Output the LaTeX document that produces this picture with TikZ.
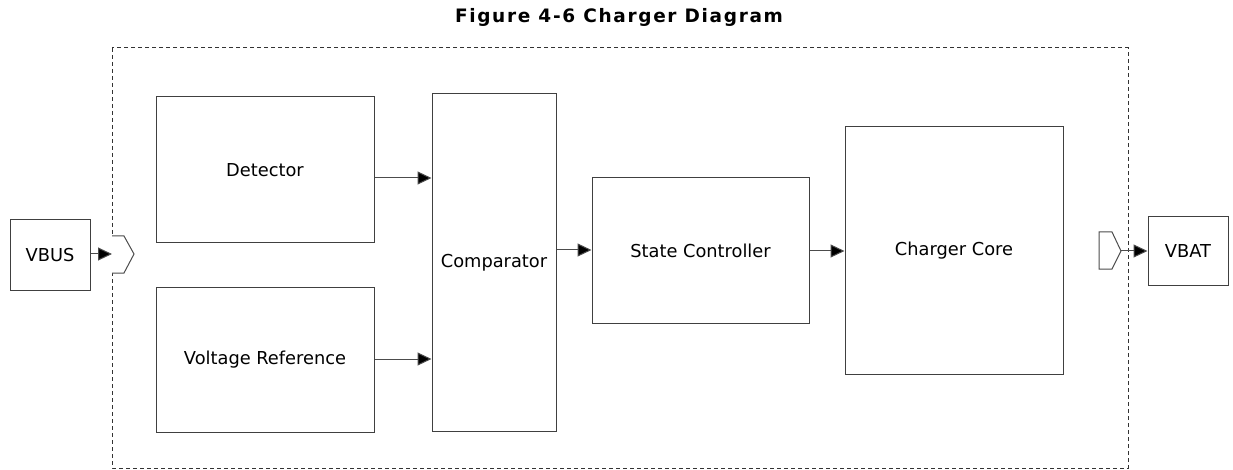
\documentclass[tikz,border=0pt]{standalone}
\usepackage{fontspec}
\setmainfont{DejaVu Sans}
\newfontfamily\titlefont[LetterSpace=9]{DejaVu Sans}
\usetikzlibrary{arrows.meta}
\tikzset{
  blk/.style={draw=black!75, line width=1pt, inner sep=0pt, font=\fontsize{17.8}{20}\selectfont},
  arr/.style={draw=black!70, line width=1pt, -{Triangle[length=14pt,width=13pt,fill=black]}},
  port/.style={draw=black!70, line width=1pt, fill=white},
}
\begin{document}
\begin{tikzpicture}[x=1pt,y=-1pt]
\useasboundingbox (0,0) rectangle (1233,470);
\node (title) at (619,17) {\titlefont\fontsize{18.5}{20}\selectfont\bfseries Figure 4-6 Charger Diagram};
\draw[draw=black!80, line width=1pt, dash pattern=on 4pt off 3pt] (112,48) rectangle (1128,468);
\node[blk, minimum width=80pt, minimum height=70pt] (vbus) at (50,255) {VBUS};
\node[blk, minimum width=80pt, minimum height=69pt] (vbat) at (1188,251) {VBAT};
\node[blk, minimum width=218pt, minimum height=146pt] (det) at (265,170) {Detector};
\node[blk, minimum width=218pt, minimum height=145pt] (vref) at (265,359.5) {Voltage Reference};
\node[blk, minimum width=124pt, minimum height=337pt] (comp) at (494,262.5) {Comparator};
\node[blk, minimum width=217pt, minimum height=145pt] (sc) at (700.5,250.5) {State Controller};
\node[blk, minimum width=218pt, minimum height=247pt] (core) at (954,250.5) {Charger Core};
% ports
\draw[port] (112,236) -- (124,236) -- (134,254) -- (124,273) -- (112,273);
\coordinate (pin) at (112,254);
\draw[port] (1099,232) -- (1112,232) -- (1121,251) -- (1112,269) -- (1099,269) -- cycle;
\coordinate (pout) at (1121,251);
% arrows
\draw[arr] (vbus.east |- pin) -- (pin);
\draw[arr] (det.east |- 0,178) -- (comp.west |- 0,178);
\draw[arr] (vref.east |- 0,359) -- (comp.west |- 0,359);
\draw[arr] (comp.east |- 0,250) -- (sc.west |- 0,250);
\draw[arr] (sc.east |- 0,251) -- (core.west |- 0,251);
\draw[arr] (pout) -- (vbat.west |- pout);
\end{tikzpicture}
\end{document}
